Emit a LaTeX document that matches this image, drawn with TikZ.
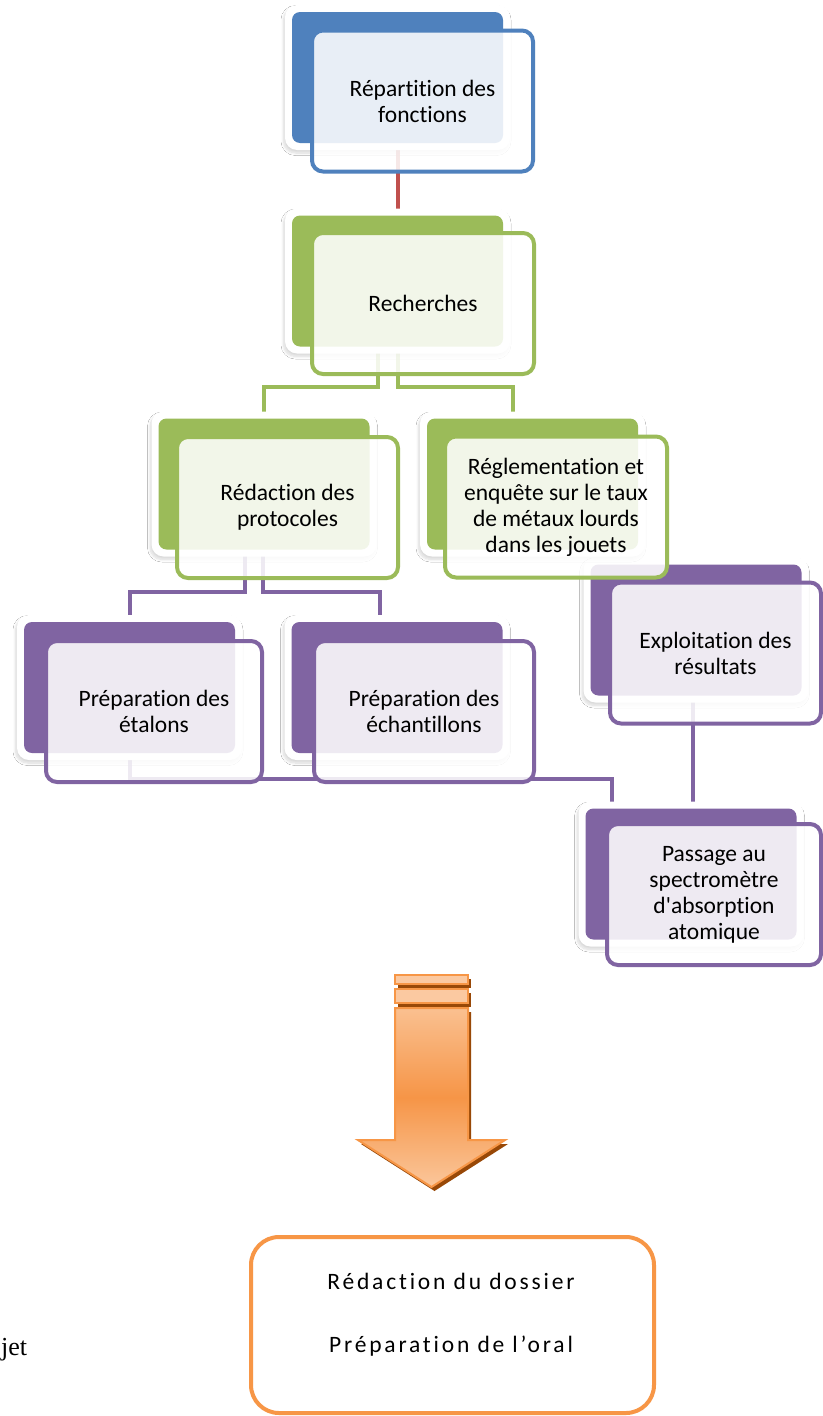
\documentclass[tikz,border=0pt]{standalone}
\usepackage{fontspec}
\setmainfont[Ligatures={NoCommon,NoContextual},Contextuals=NoAlternate]{Carlito}
\newfontfamily\jetfont{Liberation Serif}
\newfontfamily\spacedfont[LetterSpace=12,Ligatures={NoCommon,NoContextual},Contextuals=NoAlternate]{Carlito}
\usetikzlibrary{shadows.blur,calc}
\pgfdeclarelayer{bg}
\pgfsetlayers{bg,main}
\definecolor{cblue}{HTML}{4F81BD}
\definecolor{cgreen}{HTML}{9BBB59}
\definecolor{cpurple}{HTML}{8064A2}
\definecolor{cred}{HTML}{C0504D}
\definecolor{corange}{HTML}{F79646}
\definecolor{cbrown}{HTML}{984807}
\definecolor{olight}{HTML}{FAC090}
\definecolor{omid}{HTML}{F69547}
\tikzset{
  halo/.style={fill=white, rounded corners=12pt, minimum width=225pt, minimum height=145pt,
    inner sep=0pt, outer sep=0pt,
    blur shadow={shadow xshift=-1.5pt, shadow yshift=-3pt, shadow blur steps=8,
      shadow blur radius=2.5pt, shadow opacity=15}},
  backbox/.style={rounded corners=8pt, minimum width=211pt, minimum height=131pt,
    inner sep=0pt, outer sep=0pt},
  frontbox/.style={fill=white, fill opacity=0.87, text opacity=1, line width=4pt,
    rounded corners=11pt, minimum height=141pt, inner sep=0pt, align=center,
    font=\fontsize{23.5}{26}\selectfont},
  conn/.style={line width=4pt},
  arrowpart/.style={draw=corange, line width=2pt},
}
\newcommand\mybox[8]{%
  \node[halo] at (#3,#4) {};
  \node[backbox, fill=#2] (#1) at (#3,#4) {};
  \node[frontbox, draw=#2, minimum width=#7pt] (#1f) at (#5,#6) {#8};
}
\begin{document}
\begin{tikzpicture}[x=1pt,y=-1pt]
\useasboundingbox (0,0) rectangle (822,1416);

\mybox{rep}{cblue}{397.5}{77.5}{422.5}{101}{221}{Répartition des\\fonctions}
\mybox{rech}{cgreen}{397.5}{281}{423}{303.5}{222}{Recherches}
\mybox{redac}{cgreen}{264}{484}{287.5}{507.5}{221}{Rédaction des\\protocoles}
\mybox{etal}{cpurple}{129.5}{687.5}{154}{711.5}{216}{Préparation des\\étalons}
\mybox{ech}{cpurple}{397}{687.5}{424}{711.5}{220}{Préparation des\\échantillons}
\mybox{expl}{cpurple}{696}{630}{715.5}{653}{211}{Exploitation des\\résultats}
\mybox{pass}{cpurple}{691}{874}{714}{894.5}{214}{Passage au\\spectromètre\\d\textquotesingle absorption\\atomique}
\mybox{regl}{cgreen}{532.5}{484}{556}{507}{222}{Réglementation et\\enquête sur le taux\\de métaux lourds\\dans les jouets}

\begin{pgfonlayer}{bg}
  \fill[white] (0,0) rectangle (822,1416);
  \draw[conn, cred] (rep.south) -- (rech.north);
  \draw[conn, cgreen] ([xshift=-19.5pt]rech.south) -- ++(0,40) -| (redac.north);
  \draw[conn, cgreen] (rech.south) -- ++(0,40) -| ([xshift=-19.5pt]regl.north);
  \draw[conn, cpurple] ([xshift=-19pt]redac.south) -- ++(0,42) -| (etal.north);
  \draw[conn, cpurple] ([xshift=-1pt]redac.south) -- ++(0,42) -| ([xshift=-17pt]ech.north);
  \draw[conn, cpurple] (etal.south) -- ++(0,26) -| ([xshift=-79pt]pass.north);
  \draw[conn, cpurple] ([xshift=-3pt]expl.south) -- ([xshift=-3pt]expl.south |- pass.north);
\end{pgfonlayer}

% striped block arrow
\fill[cbrown] (398,979) rectangle (471,988);
\fill[cbrown] (398,993) rectangle (471,1007);
\fill[cbrown] (398,1012) -- (471,1012) -- (471,1144) -- (508,1144) -- (434.5,1191)
  -- (361,1144) -- (398,1144) -- cycle;
\fill[olight!85!white, arrowpart] (395,975) rectangle (468,984);
\fill[olight!85!white, arrowpart] (395,989) rectangle (468,1003);
\shade[top color=olight, bottom color=olight!90!white, middle color=omid]
  (395,1008) -- (468,1008) -- (468,1140) -- (505,1140) -- (431.5,1187)
  -- (358,1140) -- (395,1140) -- cycle;
\draw[arrowpart, line join=miter]
  (395,1008) -- (468,1008) -- (468,1140) -- (505,1140) -- (431.5,1187)
  -- (358,1140) -- (395,1140) -- cycle;

% final box
\node[draw=corange, line width=4pt, rounded corners=28pt, minimum width=403pt,
  minimum height=176pt, inner sep=0pt] (final) at (452.5,1325) {};
\node[font=\spacedfont\fontsize{23.5}{26}\selectfont, inner sep=0pt] (t1) at (451,1281) {Rédaction du dossier};
\node[font=\spacedfont\fontsize{23.5}{26}\selectfont, inner sep=0pt] (t2) at (451,1346) {Préparation de l’oral};

\node[font=\jetfont\fontsize{26}{30}\selectfont, anchor=base west, inner sep=0pt] (jet) at (1,1355) {jet};
\end{tikzpicture}
\end{document}
